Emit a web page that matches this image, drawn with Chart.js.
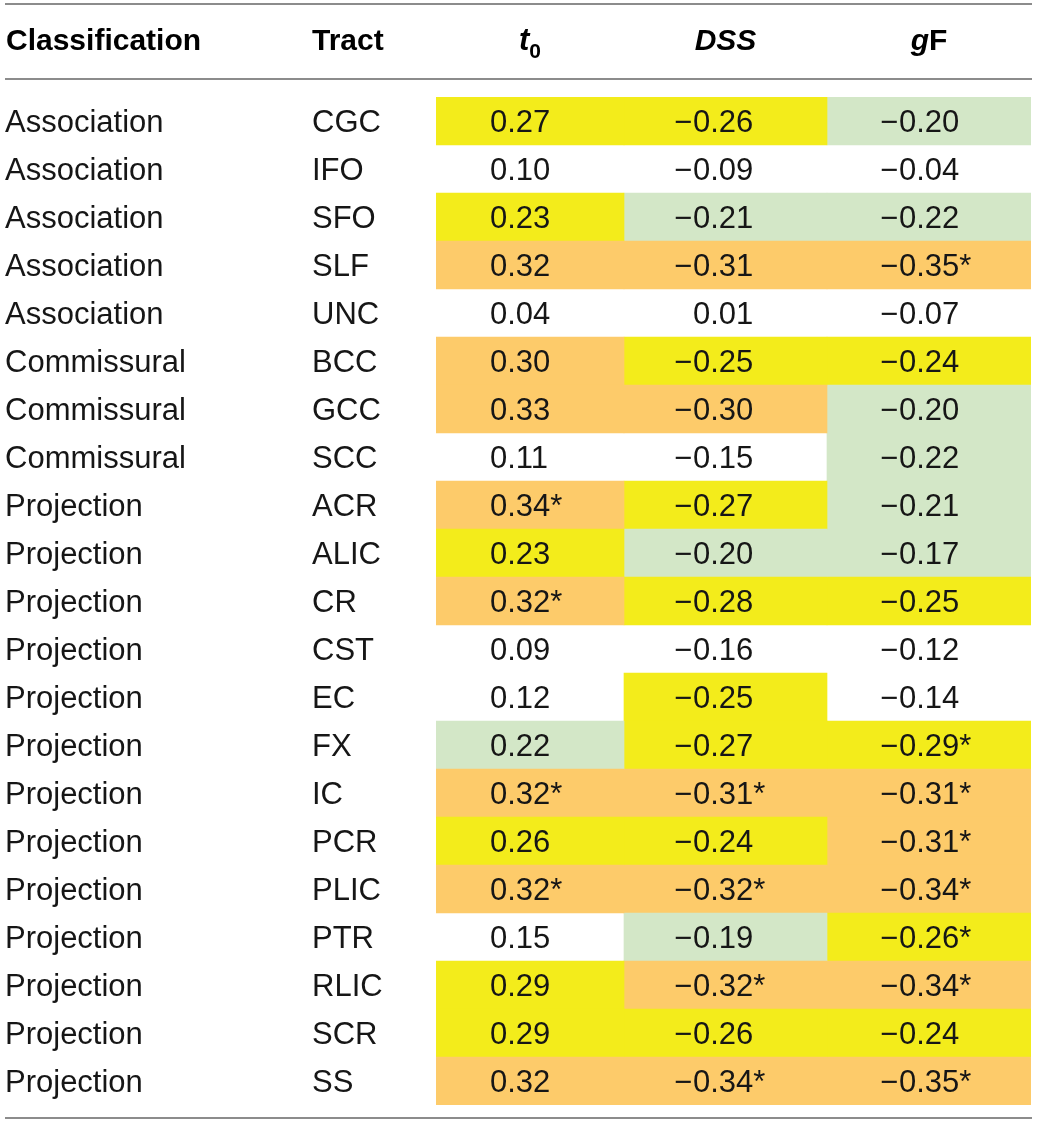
<!DOCTYPE html>
<html><head><meta charset="utf-8">
<script src="https://cdn.jsdelivr.net/npm/chart.js@4.4.1/dist/chart.umd.min.js"></script>
<style>html,body{margin:0;padding:0;background:#fff}#wrap{width:1040px;height:1125px}</style>
</head><body><div id="wrap"><canvas id="c" width="1040" height="1125"></canvas></div>
<script>
// ---------- data ----------
const classifications = ["Association","Association","Association","Association","Association",
  "Commissural","Commissural","Commissural",
  "Projection","Projection","Projection","Projection","Projection","Projection","Projection",
  "Projection","Projection","Projection","Projection","Projection","Projection"];
const tracts = ["CGC","IFO","SFO","SLF","UNC","BCC","GCC","SCC","ACR","ALIC","CR","CST","EC","FX",
  "IC","PCR","PLIC","PTR","RLIC","SCR","SS"];
const t0Values  = [0.27,0.10,0.23,0.32,0.04,0.30,0.33,0.11,0.34,0.23,0.32,0.09,0.12,0.22,0.32,0.26,0.32,0.15,0.29,0.29,0.32];
const dssValues = [-0.26,-0.09,-0.21,-0.31,0.01,-0.25,-0.30,-0.15,-0.27,-0.20,-0.28,-0.16,-0.25,-0.27,-0.31,-0.24,-0.32,-0.19,-0.32,-0.26,-0.34];
const gfValues  = [-0.20,-0.04,-0.22,-0.35,-0.07,-0.24,-0.20,-0.22,-0.21,-0.17,-0.25,-0.12,-0.14,-0.29,-0.31,-0.31,-0.34,-0.26,-0.34,-0.24,-0.35];
const t0Sig  = [0,0,0,0,0,0,0,0,1,0,1,0,0,0,1,0,1,0,0,0,0];
const dssSig = [0,0,0,0,0,0,0,0,0,0,0,0,0,0,1,0,1,0,1,0,1];
const gfSig  = [0,0,0,1,0,0,0,0,0,0,0,0,0,1,1,1,1,1,1,0,1];
const headerLeft = ["Classification","Tract"];

// ---------- layout / style ----------
const COL_EDGES = [0, 188, 391, 595];          // cell column boundaries on x scale
const DIGIT_OFFSET = [54, 69, 72];             // where digits begin inside each column
const CLR = {orange:"#FDCB6A", yellow:"#F3EC1B", green:"#D3E7C7", none:"rgba(0,0,0,0)"};
function cellColor(v){
  const a = Math.abs(v);
  if (a >= 0.295) return CLR.orange;
  if (a >= 0.225) return CLR.yellow;
  if (a >= 0.165) return CLR.green;
  return CLR.none;
}
const series = [t0Values, dssValues, gfValues];
const sigs = [t0Sig, dssSig, gfSig];
const FONT = '"Liberation Sans", Arial, sans-serif';
const TXT = "#161616";

const tablePlugin = {
  id: "tableText",
  afterDatasetsDraw(chart){
    const ctx = chart.ctx, x = chart.scales.x, y = chart.scales.y;
    ctx.save();
    // rules
    ctx.strokeStyle = "#8c8c8c"; ctx.lineWidth = 2;
    [4, 79, 1118].forEach(yy => { ctx.beginPath(); ctx.moveTo(5, yy); ctx.lineTo(1032, yy); ctx.stroke(); });
    // header
    const hb = 50;
    ctx.fillStyle = "#000"; ctx.textBaseline = "alphabetic"; ctx.textAlign = "left";
    ctx.font = "bold 30px " + FONT;
    ctx.fillText(headerLeft[0], 6, hb);
    ctx.fillText(headerLeft[1], 312, hb);
    const centers = [0,1,2].map(i => (x.getPixelForValue(COL_EDGES[i]) + x.getPixelForValue(COL_EDGES[i+1])) / 2);
    const parts = [
      [["t","italic bold 31px",0],["0","bold 21px",8]],
      [["DSS","italic bold 30px",0]],
      [["g","italic bold 30px",0],["F","bold 30px",0]]
    ];
    parts.forEach((p, i) => {
      let w = 0;
      p.forEach(s => { ctx.font = s[1] + " " + FONT; w += ctx.measureText(s[0]).width; });
      let cx = centers[i] - w / 2;
      p.forEach(s => { ctx.font = s[1] + " " + FONT; ctx.fillText(s[0], cx, hb + s[2]); cx += ctx.measureText(s[0]).width; });
    });
    // body
    ctx.fillStyle = TXT;
    ctx.font = "31px " + FONT;
    tracts.forEach((t, r) => {
      const yc = y.getPixelForValue(r) + 11;
      ctx.textAlign = "left";
      ctx.fillText(classifications[r], 5, yc);
      ctx.fillText(t, 312, yc);
      series.forEach((vals, c) => {
        const v = vals[r];
        const ax = x.getPixelForValue(COL_EDGES[c]) + DIGIT_OFFSET[c];
        ctx.textAlign = "left";
        ctx.fillText(Math.abs(v).toFixed(2) + (sigs[c][r] ? "*" : ""), ax, yc);
        if (v < 0) { ctx.textAlign = "right"; ctx.fillText("\u2212", ax - 1, yc); }
      });
    });
    ctx.restore();
  }
};

new Chart(document.getElementById("c"), {
  type: "bar",
  data: {
    labels: tracts,
    datasets: series.map((vals, c) => ({
      label: ["t0","DSS","gF"][c],
      data: vals.map(() => [COL_EDGES[c], COL_EDGES[c+1]]),
      backgroundColor: vals.map(cellColor),
      borderWidth: 0,
      barPercentage: 1,
      categoryPercentage: 1,
      grouped: false
    }))
  },
  options: {
    indexAxis: "y",
    responsive: false,
    animation: false,
    layout: { padding: { left: 436, right: 9, top: 97, bottom: 20 } },
    scales: {
      x: { type: "linear", min: 0, max: 595, display: false },
      y: { type: "category", display: false, offset: true }
    },
    plugins: { legend: { display: false }, tooltip: { enabled: false } }
  },
  plugins: [tablePlugin]
});
</script>
</body></html>
